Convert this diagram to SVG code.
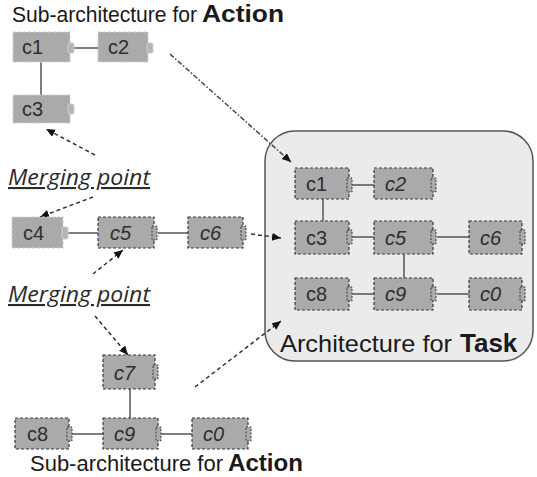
<svg xmlns="http://www.w3.org/2000/svg" width="537" height="477" viewBox="0 0 537 477">
<style>
.bl{fill:#aaaaaa;stroke:#cfcfcf;stroke-width:1.2;stroke-dasharray:3 2}
.bd{fill:#aaaaaa;stroke:#3a3a3a;stroke-width:1.2;stroke-dasharray:3 2}
.pl{fill:#b4b4b4;stroke:#d0d0d0;stroke-width:1}
.pd{fill:#aaaaaa;stroke:#3a3a3a;stroke-width:1;stroke-dasharray:2 1.5}
.ln{stroke:#555;stroke-width:1.5;fill:none}
.ar{stroke:#333;stroke-width:1.5;stroke-dasharray:4 3;fill:none;marker-end:url(#ah)}
.ad{stroke:#444;stroke-width:1.5;stroke-dasharray:5 2 1.5 2;fill:none;marker-end:url(#ah)}
.lb{font-family:"Liberation Sans",Arial,sans-serif;font-size:20px;fill:#2e2e2e}
.it{font-style:italic}
.ti{font-family:"Liberation Sans",Arial,sans-serif;fill:#1a1a1a}
.mp{font-family:"Open Sans","Liberation Sans",sans-serif;font-style:italic;font-size:21px;fill:#2a2a2a;text-decoration:underline}
</style>
<defs>
<marker id="ah" markerUnits="userSpaceOnUse" markerWidth="10" markerHeight="10" refX="9" refY="4" orient="auto">
<path d="M0,0 L9,4 L0,8 Z" fill="#111"/>
</marker>
</defs>

<text class="ti" x="12" y="22" font-size="22" textLength="185" lengthAdjust="spacingAndGlyphs">Sub-architecture for</text>
<text class="ti" x="202" y="22" font-size="24" font-weight="bold" textLength="82" lengthAdjust="spacingAndGlyphs">Action</text>

<text class="ti" x="30" y="471" font-size="22" textLength="193" lengthAdjust="spacingAndGlyphs">Sub-architecture for</text>
<text class="ti" x="228" y="471" font-size="24" font-weight="bold" textLength="75" lengthAdjust="spacingAndGlyphs">Action</text>

<text class="mp" x="8" y="185" textLength="142" lengthAdjust="spacingAndGlyphs">Merging point</text>
<text class="mp" x="8" y="302" textLength="142" lengthAdjust="spacingAndGlyphs">Merging point</text>

<g id="task">
<rect x="265" y="131" width="268" height="230" rx="30" fill="#ebebeb" stroke="#555" stroke-width="1.5"/>
<text class="ti" x="280" y="352" font-size="24" textLength="172" lengthAdjust="spacingAndGlyphs">Architecture for</text>
<text class="ti" x="460" y="352" font-size="26" font-weight="bold">Task</text>
</g>

<g id="connectors">
<line class="ln" x1="74" y1="48" x2="98" y2="48"/>
<line class="ln" x1="41" y1="62" x2="41" y2="95"/>
<line class="ln" x1="68" y1="233" x2="98" y2="233"/>
<line class="ln" x1="158" y1="233" x2="188" y2="233"/>
<line class="ln" x1="130" y1="389" x2="130" y2="418"/>
<line class="ln" x1="72" y1="434" x2="103" y2="434"/>
<line class="ln" x1="161" y1="434" x2="192" y2="434"/>
<line class="ln" x1="352" y1="185" x2="374" y2="185"/>
<line class="ln" x1="323" y1="199" x2="323" y2="221"/>
<line class="ln" x1="352" y1="237" x2="374" y2="237"/>
<line class="ln" x1="437" y1="237" x2="469" y2="237"/>
<line class="ln" x1="404" y1="254" x2="404" y2="278"/>
<line class="ln" x1="352" y1="294" x2="374" y2="294"/>
<line class="ln" x1="437" y1="294" x2="469" y2="294"/>
<line class="ar" x1="95" y1="155" x2="46" y2="129"/>
<line class="ar" x1="93" y1="197" x2="40" y2="217"/>
<line class="ar" x1="93" y1="274" x2="123" y2="250"/>
<line class="ar" x1="95" y1="316" x2="128" y2="355"/>
<line class="ar" x1="195" y1="387" x2="281" y2="321"/>
<line class="ar" x1="251" y1="234" x2="281" y2="238"/>
<line class="ad" x1="170" y1="54" x2="291" y2="162"/>
</g>

<g id="a-c1"><rect class="bl" x="13" y="32" width="57" height="30"/><rect class="pl" x="68" y="43" width="6" height="10" rx="1.5"/><text class="lb" x="22" y="54">c1</text></g>
<g id="a-c2"><rect class="bl" x="98" y="32" width="50" height="30"/><rect class="pl" x="147" y="43" width="6" height="10" rx="1.5"/><text class="lb" x="108" y="54">c2</text></g>
<g id="a-c3"><rect class="bl" x="13" y="95" width="57" height="28"/><rect class="pl" x="68" y="104" width="6" height="10" rx="1.5"/><text class="lb" x="22" y="116">c3</text></g>

<g id="m-c4"><rect class="bl" x="12" y="217" width="51" height="31"/><rect class="pl" x="62" y="227" width="6" height="12" rx="1.5"/><text class="lb" x="23" y="240">c4</text></g>
<g id="m-c5"><rect class="bd" x="98" y="217" width="56" height="31"/><rect class="pd" x="152" y="226" width="5" height="14"/><text class="lb it" x="110" y="240">c5</text></g>
<g id="m-c6"><rect class="bd" x="188" y="217" width="55" height="31"/><rect class="pd" x="241" y="226" width="5" height="14"/><text class="lb it" x="200" y="240">c6</text></g>

<g id="b-c7"><rect class="bd" x="103" y="355" width="52" height="34"/><rect class="pd" x="153" y="365" width="5" height="14"/><text class="lb it" x="114" y="380">c7</text></g>
<g id="b-c8"><rect class="bd" x="15" y="418" width="54" height="31"/><rect class="pd" x="67" y="427" width="5" height="14"/><text class="lb" x="27" y="441">c8</text></g>
<g id="b-c9"><rect class="bd" x="103" y="418" width="55" height="31"/><rect class="pd" x="156" y="427" width="5" height="14"/><text class="lb it" x="114" y="441">c9</text></g>
<g id="b-c0"><rect class="bd" x="192" y="418" width="56" height="31"/><rect class="pd" x="246" y="427" width="5" height="14"/><text class="lb it" x="203" y="441">c0</text></g>

<g id="t-c1"><rect class="bd" x="295" y="168" width="54" height="31"/><rect class="pd" x="347" y="178" width="5" height="14"/><text class="lb" x="306" y="191">c1</text></g>
<g id="t-c2"><rect class="bd" x="374" y="168" width="59" height="31"/><rect class="pd" x="431" y="178" width="5" height="14"/><text class="lb it" x="385" y="191">c2</text></g>
<g id="t-c3"><rect class="bd" x="295" y="221" width="54" height="33"/><rect class="pd" x="347" y="230" width="5" height="14"/><text class="lb" x="306" y="245">c3</text></g>
<g id="t-c5"><rect class="bd" x="374" y="221" width="59" height="33"/><rect class="pd" x="431" y="230" width="5" height="14"/><text class="lb it" x="385" y="245">c5</text></g>
<g id="t-c6"><rect class="bd" x="469" y="221" width="53" height="33"/><rect class="pd" x="520" y="230" width="5" height="14"/><text class="lb it" x="480" y="245">c6</text></g>
<g id="t-c8"><rect class="bd" x="295" y="278" width="54" height="32"/><rect class="pd" x="347" y="287" width="5" height="14"/><text class="lb" x="306" y="301">c8</text></g>
<g id="t-c9"><rect class="bd" x="374" y="278" width="59" height="32"/><rect class="pd" x="431" y="287" width="5" height="14"/><text class="lb it" x="385" y="301">c9</text></g>
<g id="t-c0"><rect class="bd" x="469" y="278" width="53" height="32"/><rect class="pd" x="520" y="287" width="5" height="14"/><text class="lb it" x="480" y="301">c0</text></g>
</svg>
